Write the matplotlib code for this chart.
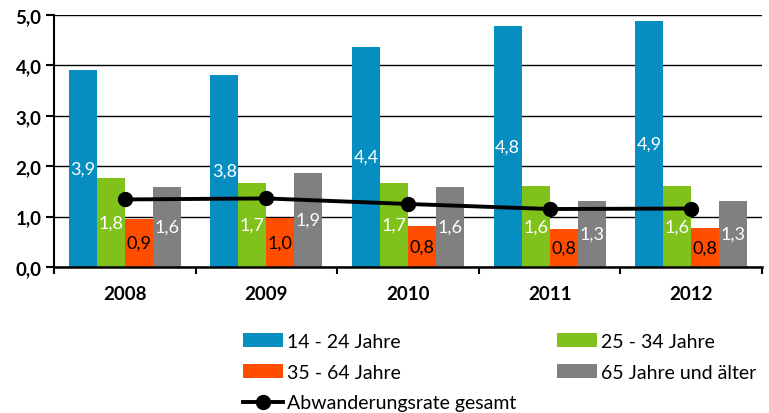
import numpy as np
import matplotlib
matplotlib.use('Agg')
import matplotlib.pyplot as plt
from matplotlib.ticker import FuncFormatter, FixedLocator

plt.rcParams['font.family'] = ['Lato', 'DejaVu Sans']

years = ['2008', '2009', '2010', '2011', '2012']
age_14_24 = [3.91, 3.81, 4.36, 4.79, 4.89]
age_25_34 = [1.76, 1.67, 1.67, 1.61, 1.61]
age_35_64 = [0.95, 0.97, 0.81, 0.76, 0.78]
age_65_up = [1.59, 1.87, 1.59, 1.31, 1.31]
total_rate = [1.34, 1.36, 1.25, 1.15, 1.16]

series_names = ['14 - 24 Jahre', '25 - 34 Jahre', '35 - 64 Jahre', '65 Jahre und älter']
colors = ['#058EBF', '#80C11C', '#FF4E00', '#808080']
label_colors = ['white', 'white', 'black', 'white']

fig = plt.figure(figsize=(7.69, 4.14), dpi=100)
ax = fig.add_axes([0.0702, 0.3527, 0.9208, 0.6087])

x = np.arange(len(years))
w = 0.198
bars = []
for i, vals in enumerate([age_14_24, age_25_34, age_35_64, age_65_up]):
    b = ax.bar(x + (i - 1.5) * w, vals, w, color=colors[i], label=series_names[i], zorder=2)
    ax.bar_label(b, labels=[f"{v:.1f}".replace('.', ',') for v in vals],
                 label_type='center', color=label_colors[i], fontsize=13, zorder=4)
    bars.append(b)

line, = ax.plot(x, total_rate, color='black', lw=2.8, marker='o', markersize=10,
                label='Abwanderungsrate gesamt', zorder=5)

ax.set_ylim(0, 5)
ax.set_xlim(-0.5, 4.5)
ax.yaxis.set_major_locator(FixedLocator([0, 1, 2, 3, 4, 5]))
ax.yaxis.set_major_formatter(FuncFormatter(lambda v, p: f"{v:.1f}".replace('.', ',')))
ax.grid(axis='y', color='black', lw=1, zorder=1)

ax.set_xticks(x)
ax.set_xticklabels(years)
ax.set_xticks(np.arange(-0.5, 5, 1), minor=True)
ax.tick_params(axis='x', which='major', length=0, pad=13)
ax.tick_params(axis='x', which='minor', length=5, width=1.5, direction='out')
ax.tick_params(axis='y', length=6, width=1.5, direction='out', pad=3)
for lab in ax.get_xticklabels() + ax.get_yticklabels():
    lab.set_fontweight('bold')
    lab.set_fontsize(13.5)

for s in ['top', 'right']:
    ax.spines[s].set_visible(False)
ax.spines['left'].set_linewidth(1.5)
ax.spines['bottom'].set_linewidth(1.8)

handles = [bars[0], bars[2], line, bars[1], bars[3]]
labels = [series_names[0], series_names[2], 'Abwanderungsrate gesamt', series_names[1], series_names[3]]
fig.legend(handles, labels, ncol=2, loc='upper left', bbox_to_anchor=(0.316, 0.193),
           frameon=False, fontsize=14, handlelength=2.06, handleheight=0.7,
           handletextpad=0.2, columnspacing=2.1, labelspacing=0.7, borderpad=0,
           borderaxespad=0)

fig.savefig('out.png', dpi=100)
